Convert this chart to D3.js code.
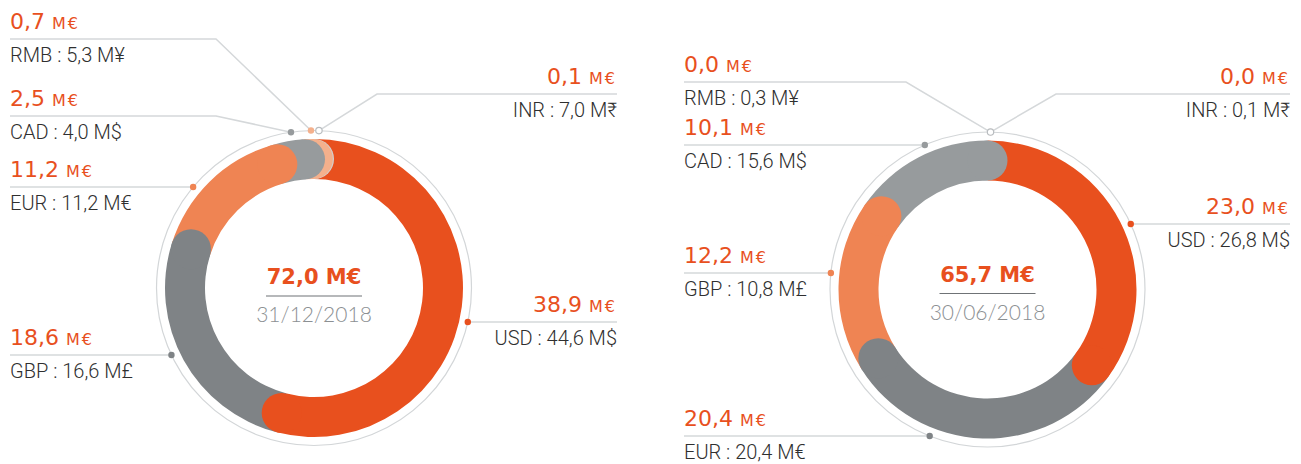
<!DOCTYPE html>
<html>
<head>
<meta charset="utf-8">
<script src="https://cdn.jsdelivr.net/npm/d3@7"></script>
<style>
  body { margin: 0; background: #fff; }
  .value { font-family: "DejaVu Sans", sans-serif; fill: #e8501e; }
  .label { font-family: Roboto, "Open Sans", sans-serif; font-weight: 300; fill: #2f2f2f; }
</style>
</head>
<body>
<div id="chart"></div>
<script>
// data - 31/12/2018
const decDate = "31/12/2018";
const decTotal = 72.0;
const decCurrencies = ["USD", "GBP", "EUR", "CAD", "RMB", "INR"];
const decEur = [38.9, 18.6, 11.2, 2.5, 0.7, 0.1];
const decLocal = [44.6, 16.6, 11.2, 4.0, 5.3, 7.0];
const decUnits = ["M$", "M£", "M€", "M$", "M¥", "M₹"];

// data - 30/06/2018
const junDate = "30/06/2018";
const junTotal = 65.7;
const junCurrencies = ["USD", "EUR", "GBP", "CAD", "RMB", "INR"];
const junEur = [23.0, 20.4, 12.2, 10.1, 0.0, 0.0];
const junLocal = [26.8, 20.4, 10.8, 15.6, 0.3, 0.1];
const junUnits = ["M$", "M€", "M£", "M$", "M¥", "M₹"];

// colours by position in the ring
const colors = ["#e8501e", "#7f8386", "#ef8453", "#979b9d", "#f4b08c", "#cfd2d4"];

const width = 1301;
const height = 464;

// where each label sits (layout only)
const decLayout = {
  USD: { side: "right", lineY: 322 },
  GBP: { side: "left", lineY: 355 },
  EUR: { side: "left", lineY: 187 },
  CAD: { side: "left", lineY: 116, elbowX: 216, dotDeg: -8.4 },
  RMB: { side: "left", lineY: 39, elbowX: 216, dotDeg: -1.1 },
  INR: { side: "right", lineY: 94, elbowX: 377, dotDeg: 1.8 }
};
const junLayout = {
  USD: { side: "right", lineY: 224 },
  EUR: { side: "left", lineY: 436 },
  GBP: { side: "left", lineY: 273 },
  CAD: { side: "left", lineY: 145 },
  RMB: { side: "left", lineY: 82, elbowX: 906, dotDeg: 1.1 },
  INR: { side: "right", lineY: 94, elbowX: 1056, dotDeg: 1.1 }
};

const charts = [
  { date: decDate, total: decTotal, names: decCurrencies, eur: decEur, local: decLocal, units: decUnits,
    layout: decLayout, cx: 314, cy: 288, textLeft: 10, textRight: 617, dy: 0 },
  { date: junDate, total: junTotal, names: junCurrencies, eur: junEur, local: junLocal, units: junUnits,
    layout: junLayout, cx: 987.5, cy: 289.5, textLeft: 684, textRight: 1290, dy: -4 }
];

const fmt = v => d3.format(".1f")(v).replace(".", ",");

const rOuter = 149, rInner = 109, rRim = 157.5;
const capR = (rOuter - rInner) / 2;

const svg = d3.select("#chart")
  .append("svg")
  .attr("width", width)
  .attr("height", height);

const arc = d3.arc().innerRadius(rInner).outerRadius(rOuter);
const pie = d3.pie().sort(null).value(d => d.eur);

charts.forEach(c => {
  const rows = c.names.map((n, i) => ({ name: n, eur: c.eur[i], local: c.local[i], unit: c.units[i], color: colors[i] }));
  const arcs = pie(rows);

  const g = svg.append("g").attr("transform", `translate(${c.cx},${c.cy})`);

  // thin outer rim
  g.append("circle")
    .attr("r", rRim)
    .attr("fill", "none")
    .attr("stroke", "#d3d6d8")
    .attr("stroke-width", 1.2);

  // ring segments
  g.selectAll("path.seg")
    .data(arcs.filter(d => d.value > 0))
    .join("path")
    .attr("class", "seg")
    .attr("d", arc)
    .attr("fill", d => d.data.color);

  // rounded ends, each sitting over the next segment
  const capAt = d => arc.centroid({ startAngle: d.endAngle, endAngle: d.endAngle });
  g.selectAll("circle.cap")
    .data(arcs.filter(d => d.value > 0).reverse())
    .join("circle")
    .attr("class", "cap")
    .attr("cx", d => capAt(d)[0])
    .attr("cy", d => capAt(d)[1])
    .attr("r", capR)
    .attr("fill", d => d.data.color);

  // centre text
  g.append("text")
    .attr("class", "value")
    .attr("text-anchor", "middle")
    .attr("y", -4 + c.dy)
    .style("font-size", "21px")
    .style("font-weight", "bold")
    .text(fmt(c.total) + " M€");

  g.append("line")
    .attr("x1", -48).attr("x2", 48)
    .attr("y1", 8 + c.dy).attr("y2", 8 + c.dy)
    .attr("stroke", "#6f7376")
    .attr("stroke-width", 1.2);

  g.append("text")
    .attr("text-anchor", "middle")
    .attr("y", 34 + c.dy)
    .style("font-family", "Lato, sans-serif")
    .style("font-weight", 300)
    .style("font-size", "21px")
    .style("fill", "#8c9093")
    .text(c.date);

  // labels
  rows.forEach(d => {
    const L = c.layout[d.name];
    let dot;
    if (L.dotDeg !== undefined) {
      const a = L.dotDeg * Math.PI / 180;
      dot = [c.cx + rRim * Math.sin(a), c.cy - rRim * Math.cos(a)];
    } else {
      const dy = L.lineY - c.cy;
      const dx = Math.sqrt(rRim * rRim - dy * dy);
      dot = [c.cx + (L.side === "left" ? -dx : dx), L.lineY];
    }
    const edgeX = L.side === "left" ? c.textLeft : c.textRight;
    const kneeX = L.elbowX !== undefined ? L.elbowX : dot[0];
    const pts = [[edgeX, L.lineY], [kneeX, L.lineY], dot];

    svg.append("path")
      .attr("d", d3.line()(pts))
      .attr("fill", "none")
      .attr("stroke", "#d5d8da")
      .attr("stroke-width", 1.5);

    const anchor = L.side === "left" ? "start" : "end";
    const vt = svg.append("text")
      .attr("class", "value")
      .attr("x", edgeX)
      .attr("y", L.lineY - 10)
      .attr("text-anchor", anchor)
      .style("font-size", "22px");
    vt.append("tspan").text(fmt(d.eur) + " ");
    vt.append("tspan")
      .style("font-size", "16px")
      .style("letter-spacing", "2px")
      .text("M€");

    svg.append("text")
      .attr("class", "label")
      .attr("x", edgeX)
      .attr("y", L.lineY + 23)
      .attr("text-anchor", anchor)
      .style("font-size", "20px")
      .text(`${d.name} : ${fmt(d.local)} ${d.unit}`);

    d.dot = dot;
  });

  // dots on the rim (INR drawn hollow, last)
  rows.forEach(d => {
    const hollow = d.name === "INR";
    svg.append("circle")
      .attr("cx", d.dot[0])
      .attr("cy", d.dot[1])
      .attr("r", 3.2)
      .attr("fill", hollow ? "#fff" : d.color)
      .attr("stroke", hollow ? "#b9bdc0" : "none")
      .attr("stroke-width", 1.2);
  });
});
</script>
</body>
</html>
